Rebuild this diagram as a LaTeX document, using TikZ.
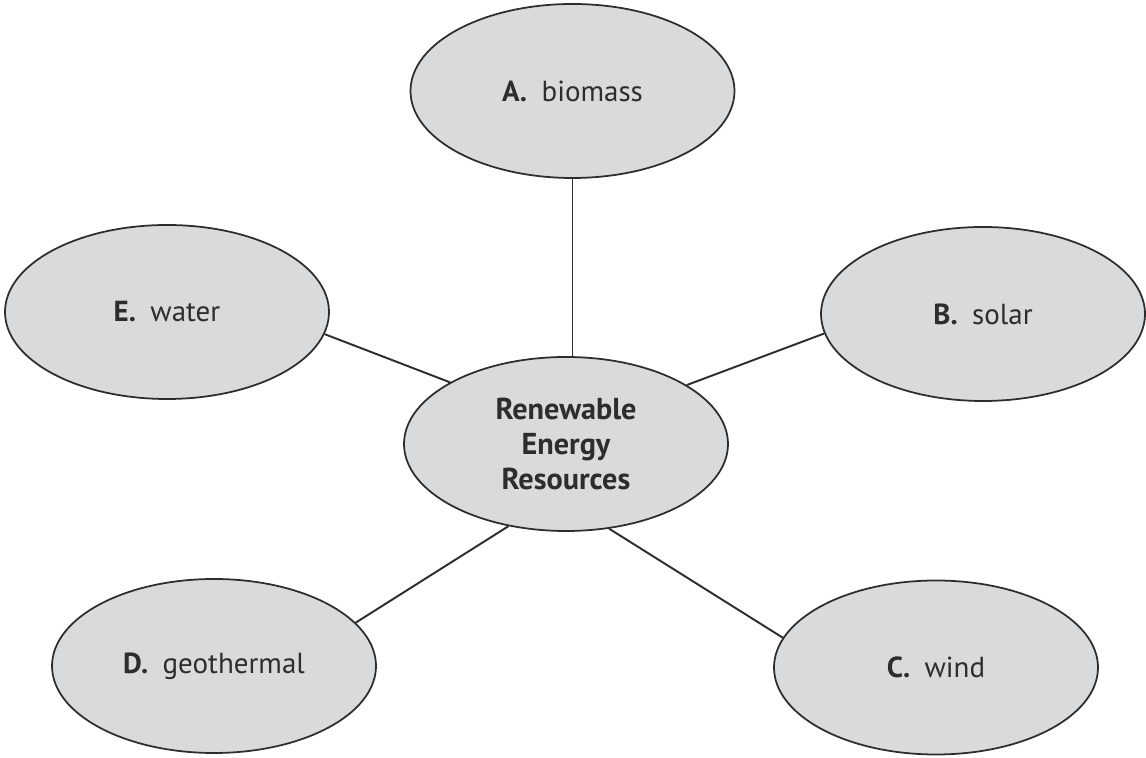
\documentclass[tikz,border=0pt]{standalone}
\usepackage{fontspec}
\setmainfont{PT Sans}
\usepackage{tikz}
\usetikzlibrary{shapes.geometric}

\definecolor{bubblegray}{RGB}{216,218,220}
\definecolor{inkgray}{RGB}{45,45,45}

\tikzset{
	bubble/.style={ellipse, draw=inkgray, line width=1pt, fill=bubblegray, inner sep=0pt,
		minimum width=6.48cm, minimum height=3.48cm, text=inkgray, font=\fontsize{16.5}{19}\selectfont},
	spoke/.style={draw=inkgray, line width=1.1pt}
}

\begin{document}
\begin{tikzpicture}
		\useasboundingbox (0,0) rectangle (22.92,15.16);
		\begin{scope}
			% centre
			\node[bubble, align=center, font=\fontsize{17.2}{20}\selectfont\bfseries] (res) at (11.32, 6.28) {Renewable\\Energy\\Resources};

			% outer bubbles
			\node[bubble] (bio) at (11.45, 13.34) {\textbf{A.}\enspace biomass};
			\node[bubble] (solar) at (19.66, 8.88) {\textbf{B.}\enspace solar};
			\node[bubble] (wind) at (18.72, 1.81) {\textbf{C.}\enspace wind};
			\node[bubble] (geo) at (4.28, 1.84) {\textbf{D.}\enspace geothermal};
			\node[bubble] (water) at (3.34, 8.92) {\textbf{E.}\enspace water};

			% spokes
			\draw[spoke] (bio.south) -- (bio.south |- res.north); % A
			\draw[spoke] (solar.187) -- (res.26); % B
			\draw[spoke] (wind.169) -- (res.-63); % C
			\draw[spoke] (geo.17) -- (res.235); % D
			\draw[spoke] (water.-8) -- (res.152); % E
		\end{scope}
	\end{tikzpicture}
\end{document}
